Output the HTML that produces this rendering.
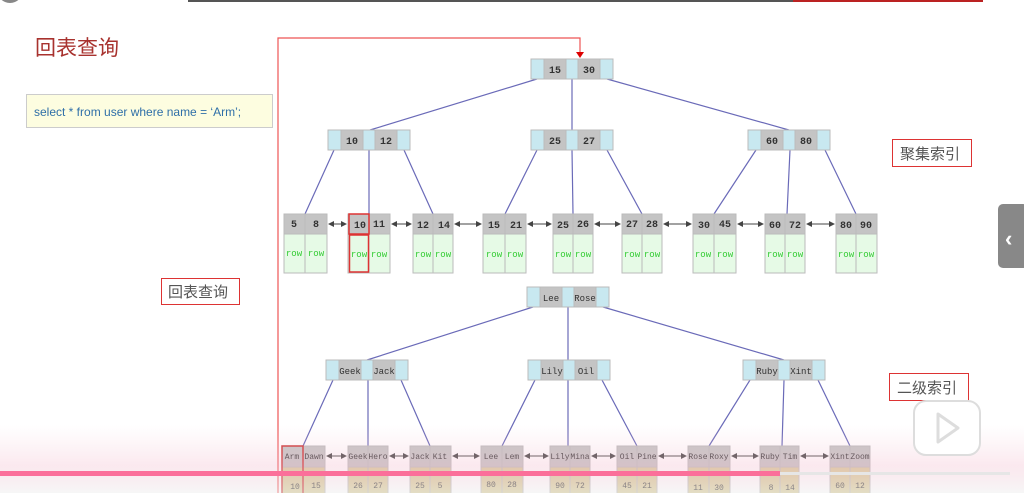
<!DOCTYPE html>
<html><head><meta charset="utf-8"><style>
html,body{margin:0;padding:0;background:#fff;width:1024px;height:493px;overflow:hidden}
svg{display:block}
.m{font-family:"Liberation Mono",monospace;font-size:10px;fill:#333;font-weight:bold}
.r{font-family:"Liberation Mono",monospace;font-size:9px;fill:#3c3;}
.cj{font-family:"Liberation Sans","Noto Sans CJK SC",sans-serif}
</style></head><body>
<svg width="1024" height="493" viewBox="0 0 1024 493" xmlns="http://www.w3.org/2000/svg">
<defs>
<marker id="a" markerWidth="6" markerHeight="6" refX="5" refY="3" orient="auto"><path d="M0,0L6,3L0,6z" fill="#444"/></marker>
<marker id="b" markerWidth="6" markerHeight="6" refX="1" refY="3" orient="auto"><path d="M6,0L0,3L6,6z" fill="#444"/></marker>
<linearGradient id="pk" x1="0" y1="0" x2="0" y2="1"><stop offset="0" stop-color="#f6c8d6" stop-opacity="0"/><stop offset="0.6" stop-color="#f3bfd0" stop-opacity="0.35"/><stop offset="1" stop-color="#eee" stop-opacity="0.5"/></linearGradient>
</defs>
<rect x="188" y="0" width="605" height="2" fill="#555"/>
<rect x="793" y="0" width="190" height="2" fill="#b22"/>
<circle cx="10" cy="-10" r="13" fill="#888"/>
<text x="35" y="55" class="cj" font-size="21" fill="#a8322e">回表查询</text>
<rect x="26.5" y="94.5" width="246" height="33" fill="#fdfde0" stroke="#ccc"/>
<text x="34" y="116" font-family="Liberation Sans,sans-serif" font-size="12" fill="#2f6fa8">select * from user where name = ‘Arm’;</text>
<path d="M278,493V38H580V53" fill="none" stroke="#e55" stroke-width="1.2"/>
<path d="M576,52L580,58L584,52z" fill="#d00"/>
<rect x="161.5" y="278.5" width="78" height="26" fill="#fff" stroke="#d33"/>
<text x="168" y="297" class="cj" font-size="15" fill="#555">回表查询</text>
<rect x="892.5" y="139.5" width="79" height="27" fill="#fff" stroke="#d33"/>
<text x="900" y="159" class="cj" font-size="15" fill="#555">聚集索引</text>
<rect x="889.5" y="373.5" width="79" height="27" fill="#fff" stroke="#d33"/>
<text x="897" y="393" class="cj" font-size="15" fill="#555">二级索引</text>

<g stroke="#6a6ab8" stroke-width="1.2">
<line x1="537" y1="79" x2="370" y2="130"/><line x1="572" y1="79" x2="572" y2="130"/><line x1="607" y1="79" x2="789" y2="130"/>
<line x1="334" y1="150" x2="305" y2="214"/><line x1="369" y1="150" x2="369" y2="214"/><line x1="404" y1="150" x2="433" y2="214"/>
<line x1="537" y1="150" x2="505" y2="214"/><line x1="572" y1="150" x2="573" y2="214"/><line x1="607" y1="150" x2="642" y2="214"/>
<line x1="756" y1="150" x2="714" y2="214"/><line x1="790" y1="150" x2="787" y2="214"/><line x1="825" y1="150" x2="856" y2="214"/>
<line x1="533" y1="307" x2="367" y2="360"/><line x1="568" y1="307" x2="568" y2="360"/><line x1="603" y1="307" x2="784" y2="360"/>
<line x1="333" y1="380" x2="303" y2="446"/><line x1="368" y1="380" x2="368" y2="446"/><line x1="401" y1="380" x2="430" y2="446"/>
<line x1="535" y1="380" x2="502" y2="446"/><line x1="568" y1="380" x2="568" y2="446"/><line x1="602" y1="380" x2="637" y2="446"/>
<line x1="750" y1="380" x2="709" y2="446"/><line x1="784" y1="380" x2="782" y2="446"/><line x1="818" y1="380" x2="850" y2="446"/>
</g>

<g stroke="#bbb" stroke-width="1">
<g transform="translate(531,59)"><rect width="13" height="20" fill="#c8e8f0"/><rect x="13" width="22" height="20" fill="#c4c4c4"/><rect x="35" width="12" height="20" fill="#c8e8f0"/><rect x="47" width="22" height="20" fill="#c4c4c4"/><rect x="69" width="13" height="20" fill="#c8e8f0"/></g>
<g transform="translate(328,130)"><rect width="13" height="20" fill="#c8e8f0"/><rect x="13" width="22" height="20" fill="#c4c4c4"/><rect x="35" width="12" height="20" fill="#c8e8f0"/><rect x="47" width="22" height="20" fill="#c4c4c4"/><rect x="69" width="13" height="20" fill="#c8e8f0"/></g>
<g transform="translate(531,130)"><rect width="13" height="20" fill="#c8e8f0"/><rect x="13" width="22" height="20" fill="#c4c4c4"/><rect x="35" width="12" height="20" fill="#c8e8f0"/><rect x="47" width="22" height="20" fill="#c4c4c4"/><rect x="69" width="13" height="20" fill="#c8e8f0"/></g>
<g transform="translate(748,130)"><rect width="13" height="20" fill="#c8e8f0"/><rect x="13" width="22" height="20" fill="#c4c4c4"/><rect x="35" width="12" height="20" fill="#c8e8f0"/><rect x="47" width="22" height="20" fill="#c4c4c4"/><rect x="69" width="13" height="20" fill="#c8e8f0"/></g>
<g transform="translate(527,287)"><rect width="13" height="20" fill="#c8e8f0"/><rect x="13" width="22" height="20" fill="#c4c4c4"/><rect x="35" width="12" height="20" fill="#c8e8f0"/><rect x="47" width="22" height="20" fill="#c4c4c4"/><rect x="69" width="13" height="20" fill="#c8e8f0"/></g>
<g transform="translate(326,360)"><rect width="13" height="20" fill="#c8e8f0"/><rect x="13" width="22" height="20" fill="#c4c4c4"/><rect x="35" width="12" height="20" fill="#c8e8f0"/><rect x="47" width="22" height="20" fill="#c4c4c4"/><rect x="69" width="13" height="20" fill="#c8e8f0"/></g>
<g transform="translate(528,360)"><rect width="13" height="20" fill="#c8e8f0"/><rect x="13" width="22" height="20" fill="#c4c4c4"/><rect x="35" width="12" height="20" fill="#c8e8f0"/><rect x="47" width="22" height="20" fill="#c4c4c4"/><rect x="69" width="13" height="20" fill="#c8e8f0"/></g>
<g transform="translate(743,360)"><rect width="13" height="20" fill="#c8e8f0"/><rect x="13" width="22" height="20" fill="#c4c4c4"/><rect x="35" width="12" height="20" fill="#c8e8f0"/><rect x="47" width="22" height="20" fill="#c4c4c4"/><rect x="69" width="13" height="20" fill="#c8e8f0"/></g>
</g>
<g class="m" text-anchor="middle">
<text x="555" y="73">15</text><text x="589" y="73">30</text>
<text x="352" y="144">10</text><text x="386" y="144">12</text>
<text x="555" y="144">25</text><text x="589" y="144">27</text>
<text x="772" y="144">60</text><text x="806" y="144">80</text>
</g>
<g class="m" text-anchor="middle" style="font-weight:normal;font-size:9px">
<text x="551" y="301">Lee</text><text x="585" y="301">Rose</text>
<text x="350" y="374">Geek</text><text x="384" y="374">Jack</text>
<text x="552" y="374">Lily</text><text x="586" y="374">Oil</text>
<text x="767" y="374">Ruby</text><text x="801" y="374">Xint</text>
</g>

<g stroke="#bbb">
<g fill="#c4c4c4">
<rect x="284" y="214" width="21" height="20"/><rect x="305" y="214" width="22" height="20"/>
<rect x="348" y="214" width="21" height="20"/><rect x="369" y="214" width="21" height="20"/>
<rect x="413" y="214" width="20" height="20"/><rect x="433" y="214" width="20" height="20"/>
<rect x="483" y="214" width="22" height="20"/><rect x="505" y="214" width="21" height="20"/>
<rect x="553" y="214" width="20" height="20"/><rect x="573" y="214" width="20" height="20"/>
<rect x="622" y="214" width="20" height="20"/><rect x="642" y="214" width="20" height="20"/>
<rect x="693" y="214" width="21" height="20"/><rect x="714" y="214" width="22" height="20"/>
<rect x="765" y="214" width="20" height="20"/><rect x="785" y="214" width="20" height="20"/>
<rect x="836" y="214" width="20" height="20"/><rect x="856" y="214" width="21" height="20"/>
</g>
<g fill="#e6fae6">
<rect x="284" y="234" width="21" height="39"/><rect x="305" y="234" width="22" height="39"/>
<rect x="348" y="234" width="21" height="39"/><rect x="369" y="234" width="21" height="39"/>
<rect x="413" y="234" width="20" height="39"/><rect x="433" y="234" width="20" height="39"/>
<rect x="483" y="234" width="22" height="39"/><rect x="505" y="234" width="21" height="39"/>
<rect x="553" y="234" width="20" height="39"/><rect x="573" y="234" width="20" height="39"/>
<rect x="622" y="234" width="20" height="39"/><rect x="642" y="234" width="20" height="39"/>
<rect x="693" y="234" width="21" height="39"/><rect x="714" y="234" width="22" height="39"/>
<rect x="765" y="234" width="20" height="39"/><rect x="785" y="234" width="20" height="39"/>
<rect x="836" y="234" width="20" height="39"/><rect x="856" y="234" width="21" height="39"/>
</g>
</g>
<rect x="349" y="214" width="20" height="20" fill="none" stroke="#d33" stroke-width="1.5"/>
<rect x="349.5" y="235" width="19" height="37" fill="none" stroke="#d33" stroke-width="1.5"/>
<g class="m" text-anchor="middle">
<text x="294" y="227">5</text><text x="316" y="227">8</text>
<text x="360" y="228">10</text><text x="379" y="227">11</text>
<text x="423" y="228">12</text><text x="444" y="228">14</text>
<text x="494" y="228">15</text><text x="516" y="228">21</text>
<text x="563" y="228">25</text><text x="583" y="227">26</text>
<text x="632" y="227">27</text><text x="652" y="227">28</text>
<text x="704" y="228">30</text><text x="725" y="227">45</text>
<text x="775" y="228">60</text><text x="795" y="228">72</text>
<text x="846" y="228">80</text><text x="866" y="228">90</text>
</g>
<g class="r" text-anchor="middle">
<text x="294" y="256">row</text><text x="316" y="256">row</text><text x="359" y="257">row</text><text x="379" y="257">row</text>
<text x="423" y="257">row</text><text x="443" y="257">row</text><text x="494" y="257">row</text><text x="515" y="257">row</text>
<text x="563" y="257">row</text><text x="583" y="257">row</text><text x="632" y="257">row</text><text x="652" y="257">row</text>
<text x="703" y="257">row</text><text x="725" y="257">row</text><text x="775" y="257">row</text><text x="795" y="257">row</text>
<text x="846" y="257">row</text><text x="866" y="257">row</text>
</g>
<g stroke="#444" stroke-width="1" marker-start="url(#b)" marker-end="url(#a)">
<line x1="329" y1="224" x2="346" y2="224"/><line x1="392" y1="224" x2="411" y2="224"/><line x1="455" y1="224" x2="481" y2="224"/>
<line x1="528" y1="224" x2="551" y2="224"/><line x1="595" y1="224" x2="620" y2="224"/><line x1="664" y1="224" x2="691" y2="224"/>
<line x1="738" y1="224" x2="763" y2="224"/><line x1="807" y1="224" x2="834" y2="224"/>
</g>

<g stroke="#bbb">
<g fill="#c4c4c4">
<rect x="282" y="446" width="21" height="21"/><rect x="303" y="446" width="22" height="21"/>
<rect x="348" y="446" width="20" height="21"/><rect x="368" y="446" width="20" height="21"/>
<rect x="410" y="446" width="20" height="21"/><rect x="430" y="446" width="21" height="21"/>
<rect x="481" y="446" width="21" height="21"/><rect x="502" y="446" width="21" height="21"/>
<rect x="550" y="446" width="20" height="21"/><rect x="570" y="446" width="20" height="21"/>
<rect x="617" y="446" width="20" height="21"/><rect x="637" y="446" width="20" height="21"/>
<rect x="688" y="446" width="21" height="21"/><rect x="709" y="446" width="21" height="21"/>
<rect x="760" y="446" width="20" height="21"/><rect x="780" y="446" width="19" height="21"/>
<rect x="830" y="446" width="20" height="21"/><rect x="850" y="446" width="20" height="21"/>
</g>
<g fill="#d8cc9a">
<rect x="282" y="467" width="21" height="30"/><rect x="303" y="467" width="22" height="30"/>
<rect x="348" y="467" width="20" height="30"/><rect x="368" y="467" width="20" height="30"/>
<rect x="410" y="467" width="20" height="30"/><rect x="430" y="467" width="21" height="30"/>
<rect x="481" y="467" width="21" height="30"/><rect x="502" y="467" width="21" height="30"/>
<rect x="550" y="467" width="20" height="30"/><rect x="570" y="467" width="20" height="30"/>
<rect x="617" y="467" width="20" height="30"/><rect x="637" y="467" width="20" height="30"/>
<rect x="688" y="467" width="21" height="30"/><rect x="709" y="467" width="21" height="30"/>
<rect x="760" y="467" width="20" height="30"/><rect x="780" y="467" width="19" height="30"/>
<rect x="830" y="467" width="20" height="30"/><rect x="850" y="467" width="20" height="30"/>
</g>
</g>
<g stroke="#444" stroke-width="1" marker-start="url(#b)" marker-end="url(#a)">
<line x1="327" y1="456" x2="346" y2="456"/><line x1="390" y1="456" x2="408" y2="456"/><line x1="453" y1="456" x2="479" y2="456"/>
<line x1="525" y1="456" x2="548" y2="456"/><line x1="592" y1="456" x2="615" y2="456"/><line x1="659" y1="456" x2="686" y2="456"/>
<line x1="732" y1="456" x2="758" y2="456"/><line x1="801" y1="456" x2="828" y2="456"/>
</g>
<g class="m" text-anchor="middle" style="font-size:8px;font-weight:normal">
<text x="292" y="459">Arm</text><text x="314" y="459">Dawn</text><text x="358" y="459">Geek</text><text x="378" y="459">Hero</text>
<text x="420" y="459">Jack</text><text x="440" y="459">Kit</text><text x="491" y="459">Lee</text><text x="512" y="459">Lem</text>
<text x="560" y="459">Lily</text><text x="580" y="459">Mina</text><text x="627" y="459">Oil</text><text x="647" y="459">Pine</text>
<text x="698" y="459">Rose</text><text x="719" y="459">Roxy</text><text x="770" y="459">Ruby</text><text x="790" y="459">Tim</text>
<text x="840" y="459">Xint</text><text x="860" y="459">Zoom</text>
<text x="295" y="489">10</text><text x="316" y="488">15</text><text x="358" y="488">26</text><text x="378" y="488">27</text>
<text x="420" y="488">25</text><text x="440" y="488">5</text><text x="491" y="487">80</text><text x="512" y="487">28</text>
<text x="560" y="488">90</text><text x="580" y="488">72</text><text x="627" y="488">45</text><text x="647" y="488">21</text>
<text x="698" y="490">11</text><text x="719" y="490">30</text><text x="771" y="490">8</text><text x="790" y="490">14</text>
<text x="840" y="488">60</text><text x="860" y="488">12</text>
</g>
<rect x="282" y="446" width="21" height="51" fill="none" stroke="#c33" stroke-width="1.5"/>

<rect x="0" y="425" width="1024" height="68" fill="url(#pk)"/>
<rect x="0" y="471" width="780" height="5" fill="#fb6f9a"/>
<rect x="780" y="472" width="230" height="3" fill="#e6e6e6"/>
<rect x="998" y="204" width="30" height="64" rx="5" fill="#888"/>
<text x="1005" y="246" font-family="Liberation Sans,sans-serif" font-size="22" font-weight="bold" fill="#fff">‹</text>
<rect x="914" y="401" width="66" height="54" rx="12" fill="#fff" stroke="#ddd" stroke-width="2"/>
<path d="M938,414L958,428L938,442z" fill="none" stroke="#ddd" stroke-width="3" stroke-linejoin="round"/>
</svg>
</body></html>
